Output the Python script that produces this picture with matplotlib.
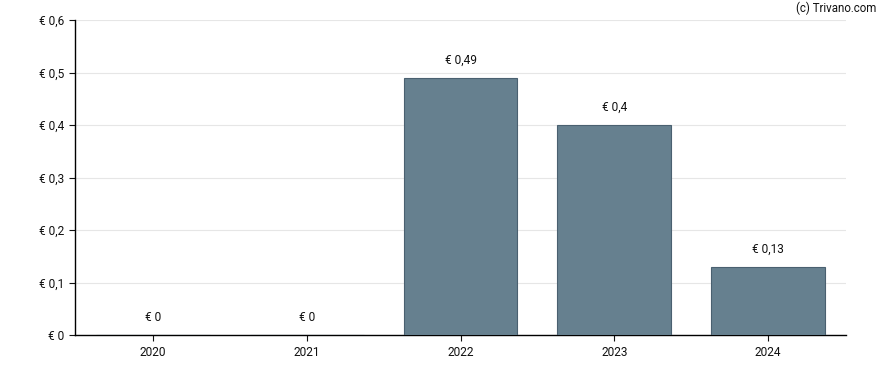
import matplotlib.pyplot as plt
from matplotlib.ticker import FuncFormatter

plt.rcParams['font.family'] = ['Roboto', 'DejaVu Sans']

years = ['2020', '2021', '2022', '2023', '2024']
dividends = [0, 0, 0.49, 0.4, 0.13]
yticks = [0, 0.1, 0.2, 0.3, 0.4, 0.5, 0.6]


def euro(v):
    s = ('%.2f' % v).rstrip('0').rstrip('.')
    return '€ ' + s.replace('.', ',')


fig = plt.figure(figsize=(8.88, 3.7), dpi=100)
ax = fig.add_axes([75 / 888, 1 - 335 / 370, 771 / 888, 315 / 370])

pos = list(range(len(years)))
ax.bar(pos, dividends, width=0.74, color='#66808f', edgecolor='#4a6070',
       linewidth=0.8, zorder=3)

for x, v in zip(pos, dividends):
    ax.annotate(euro(v), (x, v), xytext=(0, 12.5), textcoords='offset points',
                ha='center', va='center', fontsize=8.6, color='#111111')

ax.set_xlim(-0.507, 4.507)
ax.set_ylim(0, 0.6)
ax.set_yticks(yticks)
ax.yaxis.set_major_formatter(FuncFormatter(lambda v, p: euro(v)))
ax.set_xticks(pos)
ax.set_xticklabels(years)
ax.yaxis.grid(True, color='#e6e6e6', linewidth=0.8, zorder=0)
ax.tick_params(axis='both', labelsize=8.6, colors='#111111', length=4, width=0.8)
ax.tick_params(axis='x', pad=4)
for side in ['top', 'right']:
    ax.spines[side].set_visible(False)
for side in ['left', 'bottom']:
    ax.spines[side].set_linewidth(1.0)
    ax.spines[side].set_color('black')

fig.text(876 / 888, 1 - 8 / 370, '(c) Trivano.com', ha='right', va='center',
         fontsize=8.3, color='#111111')

fig.savefig('out.png', dpi=100)
